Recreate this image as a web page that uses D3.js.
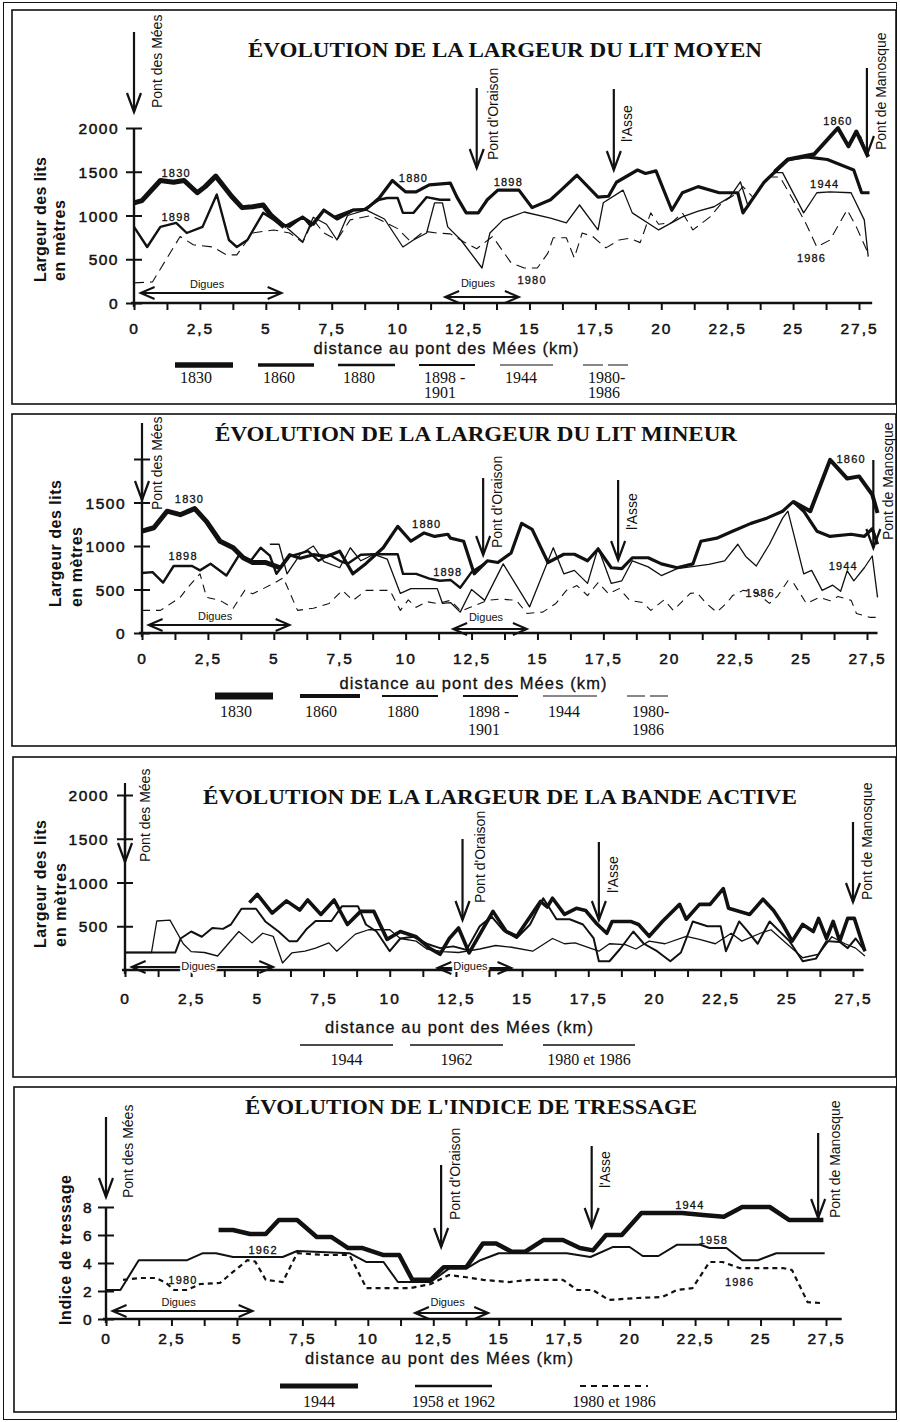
<!DOCTYPE html>
<html>
<head>
<meta charset="utf-8">
<script src="https://cdn.jsdelivr.net/npm/d3@7"></script>
<style>
  body { margin: 0; background: #fff; }
</style>
</head>
<body>
<div id="vis"></div>
<script>
// ---------- data (km along the river, value) ----------
const kmTicks = [0,1.25,2.5,3.75,5,6.25,7.5,8.75,10,11.25,12.5,13.75,15,16.25,17.5,18.75,20,21.25,22.5,23.75,25,26.25,27.5]
const kmLabels = [0,2.5,5,7.5,10,12.5,15,17.5,20,22.5,25,27.5]
const landmarks = ["Pont des Mées", "Pont d'Oraison", "l'Asse", "Pont de Manosque"]
const digues = [[0.25,5.6],[11.8,14.6]]

// lit moyen
const moyen1830 = [[0,1145],[0.3,1170],[1.0,1400],[1.5,1380],[1.9,1400],[2.4,1260],[2.7,1330],[3.1,1450],[3.7,1220],[4.1,1090],[4.5,1100],[4.9,1120],[5.2,1000],[5.7,870]]
const moyen1860 = [[24.3,1500],[24.8,1640],[25.8,1700],[26.7,2000],[27.1,1790],[27.4,1960],[27.85,1670]]
const moyen1880 = [[5.7,870],[6.4,980],[6.8,900],[7.2,1060],[7.7,960],[8.3,1060],[8.8,1070],[9.3,1200],[9.8,1400],[10.3,1270],[10.7,1270],[11.2,1350],[12.0,1370],[12.25,1210],[12.6,1030],[13.06,1030],[13.4,1180],[13.8,1290],[14.6,1290],[15.1,1090],[15.8,1180],[16.2,1290],[16.8,1460],[17.6,1210],[18.0,1220],[18.3,1380],[19.1,1520],[19.4,1480],[19.8,1510],[20.4,1060],[20.8,1260],[21.4,1330],[22.2,1260],[22.9,1260],[23.1,1030],[23.9,1380],[24.8,1640],[25.5,1670],[26.3,1640],[27.3,1520],[27.6,1260],[27.9,1260]]
const moyen1898 = [[0,870],[0.5,640],[1.0,870],[1.6,915],[2.0,800],[2.6,870],[3.14,1240],[3.6,720],[3.9,640],[4.3,720],[4.9,1030],[5.5,915],[5.9,870],[6.4,985],[6.7,880],[7.2,1065],[7.6,985],[8.3,1065],[8.7,1065],[9.3,1180],[9.6,1200],[10.0,1200],[10.2,1030],[10.6,1030],[11.1,1210],[11.6,1180],[12.0,1180]]
const moyen1944 = [[5.8,860],[6.4,700],[6.8,980],[7.3,900],[7.7,720],[8.1,1000],[8.8,1065],[9.5,960],[10.2,640],[10.6,720],[11.1,800],[11.4,1145],[11.7,1145],[11.9,870],[12.4,720],[13.2,400],[13.5,800],[14.0,950],[14.8,1040],[15.8,970],[16.4,915],[16.9,1120],[17.6,835],[17.8,1145],[18.55,1290],[18.9,1030],[19.9,835],[20.8,985],[21.4,1050],[22.0,1100],[22.6,1210],[23.0,1385],[23.3,1100],[23.75,1330],[24.25,1490],[24.6,1490],[25.4,1030],[25.9,1260],[26.4,1270],[27.2,1260],[27.7,950],[27.85,530]]
const moyen1980 = [[0,230],[0.7,240],[1.75,760],[2.25,665],[3,640],[3.5,550],[3.9,550],[4.5,800],[5.3,835],[5.9,800],[6.4,690],[6.8,950],[7.2,800],[7.7,720],[8.2,950],[9.0,1000],[10.0,850],[10.5,700],[11.0,820],[11.5,800],[12.0,790],[12.5,700],[13.0,620],[13.6,760],[14.3,460],[14.8,400],[15.3,400],[15.7,570],[15.9,745],[16.4,745],[16.7,515],[17.0,800],[17.4,760],[17.9,630],[18.4,720],[18.8,740],[19.2,690],[19.6,1030],[19.9,900],[20.4,920],[20.8,1030],[21.2,835],[21.85,985],[22.3,1145],[22.9,1260],[23.1,1330],[23.5,1200],[24.0,1440],[24.5,1440],[25.0,1180],[25.5,900],[25.9,640],[26.4,720],[27.05,1065],[27.4,870],[27.8,600]]
const moyenLabels = [["1830",1.6,1490],["1898",1.6,985],["1880",10.6,1430],["1898",14.2,1385],["1860",26.7,2085],["1944",26.2,1360],["1986",25.7,515],["1980",15.1,265]]
const moyenLegend = [["1830"],["1860"],["1880"],["1898 -","1901"],["1944"],["1980-","1986"]]

// lit mineur
const mineur1830 = [[0,1170],[0.45,1210],[0.95,1400],[1.45,1360],[2.0,1430],[2.45,1280],[2.96,1055],[3.46,980],[3.84,865],[4.2,810],[4.7,810],[5.24,750]]
const mineur1860 = [[24.7,1510],[25.35,1400],[26.1,1990],[26.75,1775],[27.2,1800],[27.7,1590],[27.9,1380]]
const mineur1880 = [[5.24,750],[5.6,900],[6.0,860],[6.5,900],[7.0,880],[7.5,940],[8.0,680],[8.5,800],[9.15,980],[9.7,1225],[10.2,1055],[10.7,1150],[11.1,1110],[11.6,1135],[11.7,1090],[12.2,1055],[12.6,680],[13.1,830],[13.5,810],[14.0,920],[14.4,1260],[14.8,1190],[15.4,810],[16.0,905],[16.4,905],[16.9,830],[17.3,965],[17.8,750],[18.2,740],[18.6,865],[19.2,865],[19.7,795],[20.3,750],[20.9,795],[21.2,1055],[21.8,1090],[22.4,1170],[23.1,1260],[23.7,1320],[24.3,1400],[24.7,1510],[25.1,1400],[25.6,1170],[26.1,1110],[26.9,1135],[27.4,1110],[27.7,1200],[27.9,1020]]
const mineur1898 = [[0,690],[0.4,700],[0.8,580],[1.2,770],[1.9,770],[2.2,720],[2.6,795],[3.2,660],[3.7,905],[4.1,820],[4.5,980],[4.85,890],[5.1,680],[5.6,880],[6.3,940],[6.7,830],[7.1,900],[7.5,830],[7.8,795],[8.3,900],[8.8,905],[9.7,905],[9.9,680],[10.4,680],[10.9,625],[11.3,600],[11.7,610],[12.07,520],[12.5,700],[13.0,800]]
const mineur1944 = [[4.85,1020],[5.2,1020],[5.5,680],[6.0,905],[6.5,1000],[6.9,820],[7.5,750],[7.9,980],[8.3,830],[8.8,905],[9.3,850],[9.8,455],[10.2,510],[11.2,510],[11.4,340],[11.7,350],[12.07,240],[12.5,500],[13.0,375],[13.7,795],[14.7,300],[15.6,980],[16.0,680],[16.4,720],[16.9,570],[17.3,980],[17.8,570],[18.2,600],[18.6,830],[19.2,760],[19.7,660],[20.3,740],[20.8,760],[21.5,790],[22.1,830],[22.6,1020],[22.9,880],[23.3,770],[23.8,1020],[24.3,1320],[24.5,1400],[25.1,680],[25.4,720],[25.8,490],[26.2,550],[26.5,480],[26.75,715],[27.0,600],[27.4,750],[27.7,885],[27.9,410]]
const mineur1986 = [[0,260],[0.7,260],[1.45,410],[1.7,510],[2.2,680],[2.45,410],[2.96,375],[3.46,285],[3.9,490],[4.2,450],[4.6,510],[5.0,570],[5.36,635],[5.9,260],[6.5,285],[7.1,340],[7.6,490],[8.0,375],[8.5,490],[9.4,490],[9.8,260],[10.1,380],[10.4,295],[10.8,360],[11.2,340],[11.7,375],[12.1,250],[12.45,295],[13.1,375],[13.6,390],[14.2,375],[14.6,225],[15.2,240],[15.7,340],[16.1,490],[16.5,545],[16.9,430],[17.3,580],[17.7,450],[18.1,510],[18.5,375],[19.0,350],[19.3,260],[19.8,380],[20.15,260],[20.8,455],[21.05,465],[21.4,340],[21.8,240],[22.2,350],[22.4,430],[22.8,490],[23.3,465],[23.8,340],[24.1,420],[24.5,600],[24.7,580],[25.2,340],[25.7,410],[26.1,370],[26.4,420],[26.9,375],[27.1,225],[27.6,180],[27.9,180]]
const mineurLabels = [["1830",1.8,1535],["1898",1.56,885],["1880",10.8,1250],["1898",11.6,705],["1860",26.9,2000],["1944",26.6,770],["1986",23.45,465]]
const mineurLegend = [["1830"],["1860"],["1880"],["1898 -","1901"],["1944"],["1980-","1986"]]

// bande active
const active1944 = [[4.7,770],[5.0,865],[5.56,650],[6.1,790],[6.6,685],[6.9,800],[7.4,635],[7.9,800],[8.4,520],[8.9,670],[9.4,670],[9.9,350],[10.4,440],[11.0,380],[11.5,250],[11.9,180],[12.25,360],[12.6,480],[13.0,195],[13.9,670],[14.4,440],[14.8,385],[15.7,785],[15.95,720],[16.15,820],[16.6,635],[17.05,705],[17.4,680],[17.8,535],[18.2,420],[18.4,555],[19.1,555],[19.4,520],[19.8,385],[20.3,555],[20.95,750],[21.2,580],[21.7,750],[22.1,750],[22.6,930],[22.8,705],[23.6,635],[24.1,810],[24.5,680],[24.85,520],[25.2,330],[25.6,520],[26.0,440],[26.2,590],[26.5,360],[26.75,555],[27.0,330],[27.3,590],[27.55,590],[27.95,215]]
const active1962 = [[0,200],[1.9,200],[2.1,360],[2.5,440],[2.9,380],[3.3,480],[3.7,470],[4.0,520],[4.4,700],[4.95,700],[5.3,555],[5.8,440],[6.2,330],[6.5,330],[6.85,465],[7.2,560],[7.8,560],[8.2,730],[8.8,730],[9.1,520],[9.5,440],[10.0,215],[10.4,360],[10.9,380],[11.4,300],[11.9,250],[12.4,270],[12.9,230],[13.4,500],[13.85,610],[14.3,450],[14.8,365],[15.3,520],[15.8,820],[16.3,580],[16.8,580],[17.3,520],[17.7,365],[17.9,100],[18.3,100],[18.7,240],[19.2,440],[19.6,300],[20.1,215],[20.6,100],[21.0,200],[21.45,555],[22.0,500],[22.5,500],[22.7,215],[23.2,555],[23.5,450],[23.9,300],[24.35,555],[24.7,450],[25.1,330],[25.6,100],[26.1,130],[26.5,330],[27.0,320],[27.3,250],[27.6,360],[27.95,215]]
const active1980 = [[0,200],[1.0,200],[1.2,560],[1.7,570],[2.2,300],[2.5,210],[3.0,200],[3.5,160],[4.3,440],[4.8,310],[5.2,420],[5.6,385],[5.95,80],[6.3,195],[6.8,215],[7.2,250],[7.7,310],[8.0,215],[8.7,410],[9.2,460],[10.0,460],[10.4,360],[11.0,330],[11.4,240],[12.0,210],[12.6,200],[13.4,240],[14.0,280],[14.6,260],[15.4,215],[16.15,360],[16.6,300],[17.0,310],[17.9,215],[18.3,300],[18.9,290],[19.3,240],[19.8,330],[20.4,300],[21.2,385],[21.7,350],[22.3,300],[22.9,420],[23.3,330],[24.0,420],[24.4,460],[25.0,300],[25.6,140],[26.2,180],[26.7,380],[27.2,300],[27.6,250],[27.95,160]]
const activeLegend = [["1944"],["1962"],["1980 et 1986"]]

// indice de tressage
const tress1944 = [[4.3,6.36],[4.85,6.36],[5.5,6.07],[6.1,6.07],[6.6,7.07],[7.3,7.07],[8.05,5.86],[8.6,5.86],[9.25,5.07],[9.8,5.07],[10.6,4.57],[11.2,4.57],[11.7,2.8],[12.4,2.8],[12.9,3.7],[13.76,3.7],[14.4,5.4],[14.9,5.4],[15.5,4.8],[16.0,4.8],[16.7,5.64],[17.45,5.64],[18.1,5.07],[18.6,4.9],[19.1,6.0],[19.7,6.0],[20.45,7.57],[22.0,7.57],[22.8,7.43],[23.6,7.3],[24.3,8.0],[25.35,8.0],[26.1,7.07],[27.4,7.07]]
const tress1962 = [[0,2.07],[0.55,2.07],[1.25,4.2],[3.1,4.2],[3.7,4.7],[4.2,4.7],[4.85,4.43],[6.75,4.43],[7.3,4.86],[9.3,4.7],[9.95,4.07],[10.6,4.07],[11.15,2.64],[12.4,2.64],[13.1,3.6],[13.76,3.6],[14.3,4.2],[15.0,4.7],[17.6,4.7],[18.5,4.43],[19.35,5.14],[20.0,5.14],[20.5,4.5],[21.1,4.5],[21.8,5.3],[22.7,5.3],[23.05,5.07],[23.7,5.07],[24.3,4.2],[24.9,4.2],[25.6,4.7],[27.45,4.7]]
const tress1980 = [[0.65,2.8],[1.3,2.93],[1.9,2.93],[2.3,2.57],[2.6,2.07],[3.1,2.07],[3.6,2.5],[4.35,2.57],[4.85,3.36],[5.4,4.2],[5.7,4.1],[6.1,2.8],[6.75,2.64],[7.3,4.7],[8.4,4.57],[9.3,4.57],[9.95,2.2],[11.6,2.2],[12.4,2.5],[13.1,3.14],[13.7,3.0],[14.4,2.8],[15.4,2.64],[16.2,2.8],[17.45,2.8],[18.0,2.07],[18.6,2.07],[19.2,1.36],[20.3,1.5],[21.25,1.57],[21.8,2.07],[22.4,2.2],[23.05,4.07],[23.55,4.07],[24.2,3.64],[25.85,3.64],[26.2,3.5],[26.8,1.2],[27.3,1.14]]
const tressLabels = [["1962",6.0,4.93],["1980",2.94,2.79],["1944",22.3,8.14],["1958",23.2,5.64],["1986",24.2,2.64]]
const tressLegend = [["1944"],["1958 et 1962"],["1980 et 1986"]]

// ---------- drawing ----------
const ink = '#111'
const sans = '"Liberation Sans", Arial, Helvetica, sans-serif'
const serif = '"Liberation Serif", "Times New Roman", serif'
const fmtKm = d => String(d).replace('.', ',')

const svg = d3.select('#vis').append('svg')
    .attr('width', 900)
    .attr('height', 1422)

svg.append('rect').attr('x', 3.5).attr('y', 2.5).attr('width', 893).attr('height', 1417)
    .attr('fill', 'none').attr('stroke', ink).attr('stroke-width', 1)

const frames = [[12,10,884,394],[12,414,884,332],[13,757,883,320],[14,1087,882,325]]
frames.forEach(f => {
    svg.append('rect').attr('x', f[0]).attr('y', f[1]).attr('width', f[2]).attr('height', f[3])
        .attr('fill', 'none').attr('stroke', ink).attr('stroke-width', 1.6)
})

function arrowDown(g, cx, top, tip) {
    g.append('line').attr('x1', cx).attr('x2', cx).attr('y1', top).attr('y2', tip)
        .attr('stroke', ink).attr('stroke-width', 2.2)
    g.append('path').attr('d', `M${cx - 7},${tip - 19}L${cx},${tip}L${cx + 7},${tip - 19}`)
        .attr('fill', 'none').attr('stroke', ink).attr('stroke-width', 2.2)
}

function doubleArrow(g, xa, xb, yy) {
    g.append('line').attr('x1', xa).attr('x2', xb).attr('y1', yy).attr('y2', yy)
        .attr('stroke', ink).attr('stroke-width', 1.8)
    g.append('path').attr('d', `M${xa + 14},${yy - 6}L${xa},${yy}L${xa + 14},${yy + 6}`)
        .attr('fill', 'none').attr('stroke', ink).attr('stroke-width', 2)
    g.append('path').attr('d', `M${xb - 14},${yy - 6}L${xb},${yy}L${xb - 14},${yy + 6}`)
        .attr('fill', 'none').attr('stroke', ink).attr('stroke-width', 2)
}

function drawPanel(p) {
    const g = svg.append('g')
    const x = d3.scaleLinear().domain([0, 27.5]).range([p.x0, p.x275])
    const y = d3.scaleLinear().domain([0, p.yMax]).range([p.y0, p.yTop])

    // title
    g.append('text').attr('x', p.title.cx).attr('y', p.title.y)
        .attr('text-anchor', 'middle').attr('font-family', serif).attr('font-weight', 'bold')
        .attr('font-size', 20).attr('textLength', p.title.len).attr('lengthAdjust', 'spacingAndGlyphs')
        .attr('fill', ink).text(p.title.text)

    // x axis
    const xAxis = d3.axisBottom(x).tickValues(kmTicks).tickSizeInner(7).tickSizeOuter(0)
        .tickFormat(d => kmLabels.includes(d) ? fmtKm(d) : '')
    const gx = g.append('g').attr('transform', `translate(0,${p.y0})`).call(xAxis)
        .attr('font-family', sans).attr('font-size', 15.5)
    gx.select('.domain').remove()
    gx.selectAll('line').attr('stroke', ink).attr('stroke-width', 2)
    gx.selectAll('text').attr('y', p.xLabelY - p.y0).attr('dy', null)
        .attr('fill', ink).attr('stroke', ink).attr('stroke-width', 0.5).attr('letter-spacing', 2)
    g.append('line').attr('x1', x(0) - 3).attr('x2', x(p.axisEnd)).attr('y1', p.y0).attr('y2', p.y0)
        .attr('stroke', ink).attr('stroke-width', 2.4)

    // y axis
    const yAxis = d3.axisLeft(y).tickValues(p.yTicks).tickSizeInner(8).tickSizeOuter(0)
        .tickFormat(d => p.yLabels.includes(d) ? d : '')
    const gy = g.append('g').attr('transform', `translate(${x(0)},0)`).call(yAxis)
        .attr('font-family', sans).attr('font-size', 15.5)
    gy.select('.domain').remove()
    gy.selectAll('line').attr('x1', 8).attr('x2', -8).attr('stroke', ink).attr('stroke-width', 2)
    gy.selectAll('text').attr('x', p.yLabelX - x(0)).attr('dy', '0.36em')
        .attr('fill', ink).attr('stroke', ink).attr('stroke-width', 0.5).attr('letter-spacing', 1.5)
    g.append('line').attr('x1', x(0)).attr('x2', x(0)).attr('y1', p.y0 + 4).attr('y2', p.yTop)
        .attr('stroke', ink).attr('stroke-width', 2.4)

    // axis titles
    g.append('text').attr('x', p.xTitle.cx).attr('y', p.xTitle.y).attr('text-anchor', 'middle')
        .attr('font-family', sans).attr('font-size', 16.5).attr('fill', ink)
        .attr('stroke', ink).attr('stroke-width', 0.3)
        .attr('textLength', p.xTitle.len).text('distance au pont des Mées  (km)')
    p.yTitle.forEach(t => {
        g.append('text').attr('transform', `translate(${t.x},${t.bottom}) rotate(-90)`)
            .attr('dominant-baseline', 'central').attr('font-family', sans).attr('font-weight', 'bold')
            .attr('font-size', 16).attr('fill', ink).attr('textLength', t.len).text(t.text)
    })

    // series
    const line = d3.line().x(d => x(d[0])).y(d => y(d[1]))
    p.series.forEach(s => {
        g.append('path').attr('d', line(s.data)).attr('fill', 'none').attr('stroke', ink)
            .attr('stroke-width', s.w).attr('stroke-linejoin', 'round')
            .attr('stroke-dasharray', s.dash || null)
    })

    // series labels
    p.labels.forEach(([t, k, v]) => {
        g.append('text').attr('x', x(k)).attr('y', y(v)).attr('text-anchor', 'middle')
            .attr('dominant-baseline', 'central').attr('font-family', sans).attr('font-size', 11)
            .attr('letter-spacing', 1.2).attr('fill', ink).attr('stroke', ink).attr('stroke-width', 0.3)
            .text(t)
    })

    // landmarks
    p.marks.forEach((k, i) => {
        const a = p.arrows[i]
        arrowDown(g, x(k), a[0], a[1])
        g.append('text').attr('transform', `translate(${x(k) + a[3]},${a[2]}) rotate(-90)`)
            .attr('dominant-baseline', 'central').attr('font-family', sans).attr('font-size', 14)
            .attr('fill', ink).text(landmarks[i])
    })

    // digues
    digues.forEach((d, i) => {
        const [ly, ty] = p.digues[i]
        doubleArrow(g, x(d[0]), x(d[1]), ly)
        const t = g.append('text').attr('x', (x(d[0]) + x(d[1])) / 2 - 4).attr('y', ty)
            .attr('text-anchor', 'middle').attr('dominant-baseline', 'central')
            .attr('font-family', sans).attr('font-size', 11).attr('fill', ink).text('Digues')
        if (p.diguesHalo) t.attr('stroke', '#fff').attr('stroke-width', 4).attr('paint-order', 'stroke')
    })

    // legend
    p.legend.items.forEach((it, i) => {
        g.append('line').attr('x1', it.x).attr('x2', it.x + it.w)
            .attr('y1', p.legend.y).attr('y2', p.legend.y)
            .attr('stroke', ink).attr('stroke-width', it.sw).attr('stroke-dasharray', it.dash || null)
        p.legend.text[i].forEach((t, j) => {
            g.append('text')
                .attr('x', p.legend.anchor === 'middle' ? it.x + it.w / 2 : it.x + 5)
                .attr('y', p.legend.labelY[j]).attr('text-anchor', p.legend.anchor)
                .attr('font-family', serif).attr('font-size', 16).attr('fill', ink).text(t)
        })
    })
}

drawPanel({
    x0: 134, x275: 859, y0: 303, yTop: 128, yMax: 2000,
    yTicks: [0, 500, 1000, 1500, 2000], yLabels: [0, 500, 1000, 1500, 2000],
    axisEnd: 28, yLabelX: 119, xLabelY: 334,
    title: { text: 'ÉVOLUTION DE LA LARGEUR DU LIT MOYEN', cx: 505, y: 57, len: 514 },
    xTitle: { cx: 446, y: 354, len: 265 },
    yTitle: [{ text: 'Largeur des lits', x: 40, bottom: 282, len: 125 }, { text: 'en mètres', x: 59, bottom: 281, len: 81 }],
    marks: [0, 13.0, 18.2, 27.8],
    arrows: [[32, 112, 108, 23], [88, 168, 160, 16], [89, 170, 142, 13], [68, 155, 150, 14]],
    digues: [[293, 284], [297, 283]],
    series: [
        { data: moyen1980, w: 1.1, dash: '10,6' },
        { data: moyen1944, w: 1.3 },
        { data: moyen1898, w: 2.4 },
        { data: moyen1880, w: 3.2 },
        { data: moyen1860, w: 4 },
        { data: moyen1830, w: 5 }
    ],
    labels: moyenLabels,
    legend: {
        y: 365, labelY: [383, 398], anchor: 'start', text: moyenLegend,
        items: [
            { x: 175, w: 58, sw: 5.5 }, { x: 258, w: 56, sw: 3.5 }, { x: 338, w: 57, sw: 2.4 },
            { x: 419, w: 56, sw: 2 }, { x: 500, w: 53, sw: 1.2 }, { x: 583, w: 47, sw: 1.2, dash: '20,5' }
        ]
    }
})

drawPanel({
    x0: 142, x275: 867, y0: 633, yTop: 459, yMax: 2000,
    yTicks: [0, 500, 1000, 1500, 2000], yLabels: [0, 500, 1000, 1500],
    axisEnd: 27.9, yLabelX: 126, xLabelY: 664,
    title: { text: 'ÉVOLUTION DE LA LARGEUR DU LIT MINEUR', cx: 476, y: 441, len: 522 },
    xTitle: { cx: 473, y: 689, len: 267 },
    yTitle: [{ text: 'Largeur des lits', x: 55, bottom: 607, len: 127 }, { text: 'en mètres', x: 76, bottom: 607, len: 80 }],
    marks: [0, 12.94, 18.06, 27.74],
    arrows: [[423, 500, 510, 15], [478, 555, 548, 14], [480, 560, 530, 14], [460, 548, 540, 15]],
    digues: [[625, 616], [629, 617]],
    series: [
        { data: mineur1986, w: 1.1, dash: '8,6' },
        { data: mineur1944, w: 1.3 },
        { data: mineur1898, w: 2.4 },
        { data: mineur1880, w: 3.2 },
        { data: mineur1860, w: 4 },
        { data: mineur1830, w: 5 }
    ],
    labels: mineurLabels,
    legend: {
        y: 696, labelY: [717, 735], anchor: 'start', text: mineurLegend,
        items: [
            { x: 215, w: 58, sw: 7 }, { x: 300, w: 60, sw: 4 }, { x: 382, w: 56, sw: 2.2 },
            { x: 463, w: 55, sw: 2 }, { x: 543, w: 54, sw: 1.2 }, { x: 627, w: 46, sw: 1.2, dash: '18,5' }
        ]
    }
})

drawPanel({
    x0: 125, x275: 853, y0: 970, yTop: 795, yMax: 2000,
    yTicks: [500, 1000, 1500, 2000], yLabels: [500, 1000, 1500, 2000],
    axisEnd: 27.9, yLabelX: 109, xLabelY: 1004,
    title: { text: 'ÉVOLUTION DE LA LARGEUR DE LA BANDE ACTIVE', cx: 500, y: 804, len: 594 },
    xTitle: { cx: 459, y: 1033, len: 268 },
    yTitle: [{ text: 'Largeur des lits', x: 40, bottom: 948, len: 128 }, { text: 'en mètres', x: 60, bottom: 947, len: 84 }],
    marks: [0, 12.75, 17.9, 27.5],
    arrows: [[783, 862, 862, 20], [839, 920, 903, 17], [842, 920, 893, 14], [822, 902, 900, 14]],
    digues: [[967, 966], [968, 966]], diguesHalo: true,
    series: [
        { data: active1980, w: 1.3 },
        { data: active1962, w: 2 },
        { data: active1944, w: 3.6 }
    ],
    labels: [],
    legend: {
        y: 1045, labelY: [1065], anchor: 'middle', text: activeLegend,
        items: [{ x: 300, w: 93, sw: 1.5 }, { x: 410, w: 93, sw: 1.5 }, { x: 543, w: 92, sw: 1.5 }]
    }
})

drawPanel({
    x0: 106, x275: 826, y0: 1319, yTop: 1207, yMax: 8,
    yTicks: [0, 2, 4, 6, 8], yLabels: [0, 2, 4, 6, 8],
    axisEnd: 28.1, yLabelX: 93, xLabelY: 1344,
    title: { text: "ÉVOLUTION DE L'INDICE DE TRESSAGE", cx: 471, y: 1114, len: 452 },
    xTitle: { cx: 439, y: 1364, len: 268 },
    yTitle: [{ text: 'Indice de tressage', x: 65, bottom: 1325, len: 150 }],
    marks: [0, 12.8, 18.55, 27.2],
    arrows: [[1117, 1197, 1198, 22], [1165, 1247, 1220, 14], [1146, 1227, 1188, 13], [1133, 1218, 1218, 17]],
    digues: [[1311, 1302], [1313, 1302]],
    series: [
        { data: tress1980, w: 2.2, dash: '5,4' },
        { data: tress1962, w: 2 },
        { data: tress1944, w: 4.5 }
    ],
    labels: tressLabels,
    legend: {
        y: 1386, labelY: [1407], anchor: 'middle', text: tressLegend,
        items: [{ x: 280, w: 78, sw: 5 }, { x: 415, w: 77, sw: 2.5 }, { x: 580, w: 68, sw: 2, dash: '6,5' }]
    }
})
</script>
</body>
</html>
